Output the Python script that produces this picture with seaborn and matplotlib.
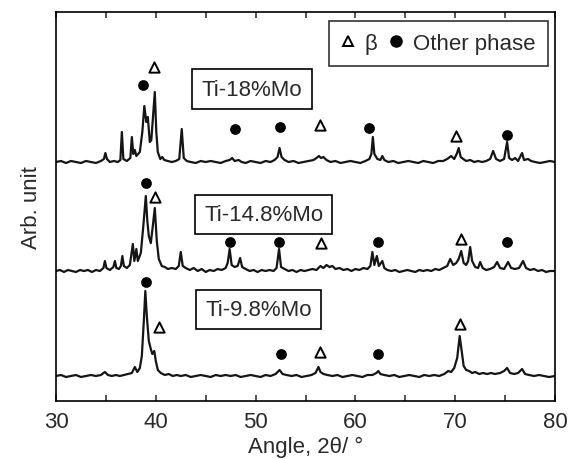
import numpy as np
import pandas as pd
import matplotlib
matplotlib.use("Agg")
import matplotlib.pyplot as plt
from matplotlib.lines import Line2D
import seaborn as sns

# ---------------- data (2theta in degrees, intensity above each trace's baseline, arb.) -------------
labels = ["Ti-18%Mo", "Ti-14.8%Mo", "Ti-9.8%Mo"]

x_18 = [30.0, 30.5, 31.0, 31.5, 32.0, 32.5, 33.0, 33.5, 34.0, 34.5, 34.8, 34.95, 35.1, 35.4, 35.8, 36.2,
        36.45, 36.6, 36.75, 37.1, 37.45, 37.6, 37.75, 37.9, 38.05, 38.4, 38.65, 38.85, 39.05, 39.2, 39.4,
        39.55, 39.75, 39.9, 40.05, 40.2, 40.45, 40.65, 40.85, 41.2, 41.6, 42.0, 42.35, 42.6, 42.8, 43.1,
        43.5, 44.0, 44.5, 45.0, 45.5, 46.0, 46.5, 47.0, 47.4, 47.65, 47.9, 48.3, 48.6, 49.0, 49.5, 50.0,
        50.5, 51.0, 51.5, 51.9, 52.2, 52.4, 52.6, 52.9, 53.3, 53.8, 54.3, 54.8, 55.3, 55.8, 56.1, 56.35,
        56.55, 56.8, 57.1, 57.5, 58.0, 58.5, 59.0, 59.5, 60.0, 60.5, 61.0, 61.4, 61.6, 61.75, 61.9, 62.2,
        62.5, 62.7, 62.9, 63.3, 63.8, 64.3, 64.8, 65.3, 65.8, 66.3, 66.8, 67.3, 67.8, 68.3, 68.8, 69.2,
        69.6, 69.9, 70.15, 70.35, 70.55, 70.8, 71.1, 71.5, 71.9, 72.3, 72.7, 73.1, 73.5, 73.8, 74.1, 74.5,
        74.9, 75.2, 75.4, 75.7, 76.0, 76.3, 76.7, 76.9, 77.3, 77.6, 78.0, 78.5, 79.0, 79.5, 80.0]
i_18 = [0, 1, -1, 1, 0, -1, 1, 0, -1, 1, 3, 9, 3, 0, 1, 0,
        2, 30, 3, 1, 4, 25, 8, 12, 6, 10, 30, 56, 40, 45, 20,
        22, 50, 70, 30, 10, 3, 5, 2, 1, 0, 1, 3, 33, 4, 1,
        0, -1, 1, 0, 1, 0, -1, 1, 2, 4, 1, 2, 0, -1, 1, 0,
        -1, 1, 0, 2, 5, 14, 5, 2, 0, 1, -1, 0, 1, 2, 4, 6,
        4, 5, 2, 0, 1, -1, 0, 1, 0, -1, 1, 3, 8, 25, 8, 3,
        2, 6, 2, 0, 1, -1, 0, 1, 0, -1, 1, 0, -1, 1, 1, 3,
        6, 3, 8, 14, 5, 3, 1, 2, 0, 1, 0, 1, 3, 11, 3, 1,
        3, 20, 4, 2, 4, 1, 9, 2, 3, 1, 0, -1, 0, 1, 0]

x_148 = [30.0, 30.4, 30.8, 31.2, 31.6, 32.0, 32.4, 32.8, 33.2, 33.6, 34.0, 34.4, 34.75, 34.9, 35.05, 35.4,
         35.75, 35.9, 36.05, 36.3, 36.5, 36.65, 36.8, 37.1, 37.4, 37.7, 37.85, 38.05, 38.2, 38.5, 38.75,
         39.0, 39.15, 39.3, 39.5, 39.7, 39.9, 40.1, 40.3, 40.6, 40.9, 41.2, 41.6, 42.0, 42.3, 42.5, 42.7,
         43.0, 43.4, 43.8, 44.2, 44.6, 45.0, 45.4, 45.8, 46.2, 46.6, 47.0, 47.2, 47.4, 47.6, 47.9, 48.2,
         48.45, 48.65, 49.0, 49.4, 49.8, 50.2, 50.6, 51.0, 51.4, 51.8, 52.1, 52.35, 52.55, 52.9, 53.3,
         53.7, 54.1, 54.5, 54.9, 55.3, 55.7, 56.1, 56.5, 56.8, 57.1, 57.4, 57.7, 58.0, 58.4, 58.8, 59.2,
         59.6, 60.0, 60.4, 60.8, 61.2, 61.5, 61.7, 61.9, 62.15, 62.35, 62.7, 62.9, 63.2, 63.6, 64.0, 64.4,
         64.8, 65.2, 65.6, 66.0, 66.4, 66.8, 67.2, 67.6, 68.0, 68.4, 68.8, 69.2, 69.5, 69.8, 70.1, 70.35,
         70.6, 70.85, 71.1, 71.3, 71.5, 71.7, 72.0, 72.3, 72.5, 72.75, 73.1, 73.5, 73.9, 74.2, 74.5, 74.9,
         75.3, 75.6, 76.0, 76.4, 76.8, 77.1, 77.5, 77.9, 78.3, 78.7, 79.1, 79.5, 80.0]
i_148 = [0, 1, -1, 1, 0, -1, 1, 0, 1, -1, 1, 0, 3, 10, 3, 1,
         4, 10, 3, 2, 5, 15, 5, 3, 6, 27, 10, 22, 10, 18, 45,
         75, 50, 35, 28, 45, 63, 30, 12, 5, 4, 2, 3, 2, 5, 19, 5,
         3, 1, 3, 0, 2, -1, 1, 0, 2, 1, 3, 8, 22, 6, 4, 5,
         13, 4, 2, 0, 1, -1, 1, 0, 1, 0, 3, 22, 4, 2, 0,
         1, -1, 1, 0, 1, 2, 1, 5, 3, 6, 4, 5, 2, 3, 1, 2,
         0, 2, 1, 3, 2, 5, 19, 6, 15, 5, 10, 3, 1, 0, 1, -1,
         0, 1, 0, -1, 1, 0, 1, 0, 2, 1, 3, 5, 12, 6, 8, 12,
         20, 8, 6, 10, 24, 10, 4, 3, 9, 3, 1, 2, 4, 9, 3, 2,
         9, 3, 2, 3, 10, 3, 1, 2, 0, 1, -1, 0, 0]

x_98 = [30.0, 30.5, 31.0, 31.5, 32.0, 32.5, 33.0, 33.5, 34.0, 34.5, 34.9, 35.2, 35.6, 36.0, 36.4, 36.8,
        37.2, 37.6, 37.9, 38.15, 38.4, 38.6, 38.8, 38.95, 39.1, 39.3, 39.5, 39.65, 39.85, 40.0, 40.2,
        40.5, 40.9, 41.3, 41.7, 42.1, 42.5, 43.0, 43.5, 44.0, 44.5, 45.0, 45.5, 46.0, 46.5, 47.0, 47.5,
        48.0, 48.5, 49.0, 49.5, 50.0, 50.5, 51.0, 51.5, 52.0, 52.4, 52.7, 53.1, 53.6, 54.1, 54.6, 55.1,
        55.6, 56.0, 56.3, 56.5, 56.8, 57.2, 57.7, 58.2, 58.7, 59.2, 59.7, 60.2, 60.7, 61.2, 61.7, 62.1,
        62.3, 62.5, 62.9, 63.4, 63.9, 64.4, 64.9, 65.4, 65.9, 66.4, 66.9, 67.4, 67.9, 68.4, 68.9, 69.3,
        69.6, 69.9, 70.2, 70.45, 70.65, 70.85, 71.1, 71.4, 71.7, 72.0, 72.4, 72.8, 73.2, 73.6, 74.0,
        74.5, 74.9, 75.2, 75.5, 75.9, 76.3, 76.7, 77.0, 77.4, 77.9, 78.4, 78.9, 79.4, 80.0]
i_98 = [0, 1, -1, 0, 1, -1, 0, 1, 0, 1, 4, 1, 0, 1, 0, 1,
        2, 3, 9, 4, 8, 20, 55, 85, 60, 35, 27, 22, 25, 15, 6,
        3, 1, 2, 0, 1, 0, 1, -1, 0, 1, 0, -1, 1, 0, 1, 0,
        1, -1, 0, 1, 0, -1, 1, 0, 2, 6, 2, 1, 0, 1, -1, 0,
        1, 3, 9, 4, 2, 1, 0, 1, -1, 0, 1, 0, -1, 1, 1, 3,
        5, 2, 1, 0, 1, -1, 0, 1, 0, -1, 1, 0, 1, 0, 2, 5,
        4, 8, 18, 40, 25, 10, 6, 5, 3, 4, 2, 3, 2, 3, 2,
        3, 5, 8, 3, 2, 3, 7, 2, 1, 0, 1, 0, -1, 0]

# phase markers (2theta, height on the plot scale)
beta_x = [39.8, 56.5, 70.1, 39.9, 56.6, 70.6, 40.3, 56.5, 70.5]
beta_y = [334, 276, 265, 204, 158, 162, 74, 49, 77]
other_x = [38.7, 47.9, 52.4, 61.4, 75.2, 39.0, 47.4, 52.3, 62.3, 75.2, 39.0, 52.5, 62.3]
other_y = [316, 272, 274, 273, 266, 218, 159, 159, 159, 159, 119, 47, 47]

xticks = [30, 40, 50, 60, 70, 80]

# ---------------- layout / style ----------------
baselines = [239, 130, 25]
label_pos = [(49.65, 312), (50.8, 186.5), (50.3, 91.5)]
txt_color = "#2a2a2a"

sns.set_theme(style="ticks")
plt.rcParams["font.family"] = ["Liberation Sans", "DejaVu Sans"]

fig = plt.figure(figsize=(5.7, 4.6), dpi=100)
ax = fig.add_axes([56 / 570, 58 / 460, 499 / 570, 389 / 460])

traces = [(x_18, i_18), (x_148, i_148), (x_98, i_98)]
for (xs, ys), b in zip(traces, baselines):
    df = pd.DataFrame({"x": xs, "y": np.asarray(ys, float) + b})
    sns.lineplot(data=df, x="x", y="y", ax=ax, color="#151515", lw=1.6,
                 estimator=None, sort=False)

sns.scatterplot(x=beta_x, y=beta_y, ax=ax, marker="^", s=55, facecolor="white",
                edgecolor="black", linewidth=1.4, zorder=5)
sns.scatterplot(x=other_x, y=other_y, ax=ax, marker="o", s=60, color="black",
                edgecolor="black", linewidth=0, zorder=5)

for lab, (lx, ly) in zip(labels, label_pos):
    ax.text(lx, ly, lab, ha="center", va="center", fontsize=16, color=txt_color,
            bbox=dict(boxstyle="square,pad=0.42", fc="white", ec="black", lw=1.2))

handles = [Line2D([], [], ls="none", marker="^", ms=7, mfc="white", mec="black", mew=1.4),
           Line2D([], [], ls="none", marker="o", ms=8, mfc="black", mec="black")]
leg = ax.legend(handles, ["β", "Other phase"], ncol=2, loc="upper right",
                bbox_to_anchor=(0.985, 0.977), fontsize=16, frameon=True, fancybox=False,
                edgecolor="black", handlelength=0.6, handletextpad=0.45, columnspacing=0.55,
                borderpad=0.55, borderaxespad=0)
leg.get_frame().set_linewidth(1.2)
for t in leg.get_texts():
    t.set_color(txt_color)

ax.set_xlim(30, 80)
ax.set_ylim(0, 389)
ax.set_xticks(xticks)
ax.set_xticklabels([str(v) for v in xticks])
ax.set_xticks([35, 45, 55, 65, 75], minor=True)
ax.set_yticks([])
ax.tick_params(axis="x", which="both", direction="in", top=True, bottom=True,
               length=4, width=1.1, labelsize=16, labelcolor=txt_color, pad=7)
for s in ax.spines.values():
    s.set_linewidth(1.2)
    s.set_color("black")
    s.set_visible(True)

ax.set_xlabel("Angle, 2θ/ °", fontsize=16, color=txt_color, labelpad=3)
ax.set_ylabel("Arb. unit", fontsize=16, color=txt_color, labelpad=10)

fig.savefig("out.png", dpi=100)
